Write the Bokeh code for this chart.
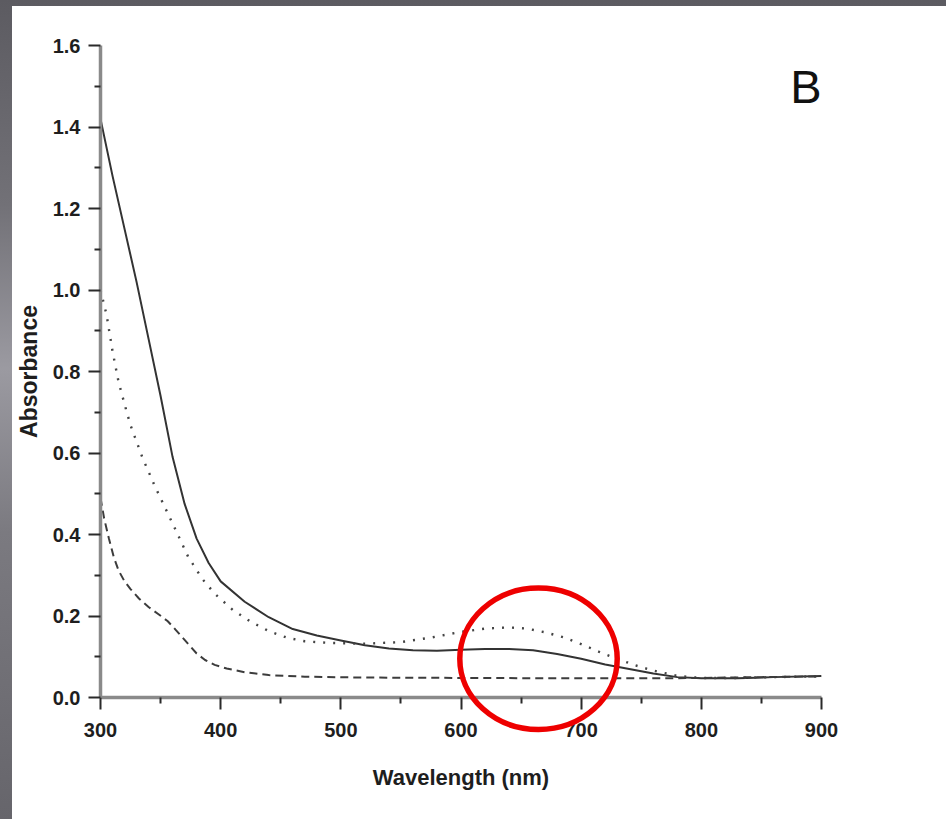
from bokeh.plotting import figure
from bokeh.layouts import column
from bokeh.models import FixedTicker, PrintfTickFormatter, Label, Range1d
from bokeh.embed import file_html
from bokeh.resources import INLINE

# ---- data ----
wl_solid = [300, 310, 320, 330, 340, 350, 360, 370, 380, 390, 400, 420, 440, 460, 480,
            500, 520, 540, 560, 580, 600, 620, 640, 660, 680, 700, 720, 740, 760, 780,
            800, 830, 860, 900]
abs_solid = [1.42, 1.28, 1.15, 1.02, 0.88, 0.74, 0.59, 0.475, 0.39, 0.33, 0.285, 0.235,
             0.197, 0.168, 0.152, 0.140, 0.128, 0.120, 0.116, 0.115, 0.117, 0.119, 0.119,
             0.116, 0.107, 0.095, 0.081, 0.070, 0.059, 0.050, 0.047, 0.047, 0.050, 0.053]

wl_dot = [300, 305, 310, 315, 320, 325, 335, 345, 360, 373, 385, 395, 410, 425, 440, 455,
          470, 490, 520, 550, 575, 600, 620, 640, 655, 670, 685, 700, 715, 730, 745, 760,
          780, 800, 830, 860, 900]
abs_dot = [1.00, 0.94, 0.85, 0.775, 0.72, 0.668, 0.588, 0.52, 0.427, 0.345, 0.29, 0.255,
           0.215, 0.186, 0.163, 0.147, 0.138, 0.134, 0.132, 0.136, 0.147, 0.161, 0.169,
           0.172, 0.169, 0.160, 0.148, 0.131, 0.112, 0.095, 0.079, 0.066, 0.053, 0.048,
           0.048, 0.050, 0.052]

wl_dash = [300, 303, 307, 311, 315, 320, 325, 332, 340, 348, 356, 362, 368, 374, 380, 387,
           395, 405, 420, 440, 470, 520, 600, 700, 760, 800, 850, 900]
abs_dash = [0.49, 0.44, 0.39, 0.345, 0.312, 0.285, 0.266, 0.243, 0.222, 0.205, 0.187,
            0.168, 0.148, 0.128, 0.108, 0.092, 0.080, 0.071, 0.062, 0.055, 0.051, 0.049,
            0.048, 0.047, 0.047, 0.048, 0.050, 0.052]

x_ticks = [300, 400, 500, 600, 700, 800, 900]
x_minor = [350, 450, 550, 650, 750, 850]
y_ticks = [0.0, 0.2, 0.4, 0.6, 0.8, 1.0, 1.2, 1.4, 1.6]
y_minor = [0.1, 0.3, 0.5, 0.7, 0.9, 1.1, 1.3, 1.5]

# highlight ellipse (data units)
ring_x, ring_y, ring_w, ring_h = 664.5, 0.095, 131, 0.347

FONT = "Liberation Sans"

p = figure(width=934, height=813, output_backend="svg", toolbar_location=None,
           x_range=Range1d(300, 900), y_range=Range1d(0, 1.6),
           min_border_left=88, min_border_right=125, min_border_top=39,
           min_border_bottom=122)
p.margin = (6, 0, 0, 12)
p.styles = {"background-color": "white"}
p.outline_line_color = None
p.xgrid.visible = False
p.ygrid.visible = False
p.background_fill_color = "white"
p.border_fill_color = "white"

for ax in (p.xaxis[0], p.yaxis[0]):
    ax.axis_line_color = "#8a8a8a"
    ax.axis_line_width = 3.5
    ax.major_tick_line_color = "#2a2a2a"
    ax.major_tick_line_width = 2
    ax.minor_tick_line_color = "#2a2a2a"
    ax.minor_tick_line_width = 2
    ax.major_tick_in = 0
    ax.major_tick_out = 12
    ax.minor_tick_in = 0
    ax.minor_tick_out = 6
    ax.major_label_text_font = FONT
    ax.major_label_text_font_style = "bold"
    ax.major_label_text_font_size = "20px"
    ax.major_label_text_color = "#1e1e1e"
    ax.axis_label_text_font = FONT
    ax.axis_label_text_font_style = "bold"
    ax.axis_label_text_font_size = "22px"
    ax.axis_label_text_color = "#1e1e1e"

p.xaxis.ticker = FixedTicker(ticks=x_ticks, minor_ticks=x_minor)
p.yaxis.ticker = FixedTicker(ticks=y_ticks, minor_ticks=y_minor)
p.yaxis.formatter = PrintfTickFormatter(format="%.1f")
p.xaxis.major_label_standoff = 13
p.yaxis.major_label_standoff = 8
p.xaxis.axis_label = "Wavelength (nm)"
p.xaxis.axis_label_standoff = 25
p.yaxis.axis_label = "Absorbance"
p.yaxis.axis_label_text_font_size = "23px"
p.yaxis.axis_label_standoff = 8

p.line(wl_solid, abs_solid, line_color="#333333", line_width=2, line_join="round")
p.line(wl_dot, abs_dot, line_color="#444444", line_width=2.4, line_dash="2 8",
       line_join="round")
p.line(wl_dash, abs_dash, line_color="#3c3c3c", line_width=2, line_dash="8 5",
       line_join="round")

p.ellipse(x=[ring_x], y=[ring_y], width=[ring_w], height=[ring_h],
          fill_color=None, line_color="#ee0000", line_width=5.5, level="overlay")

p.add_layout(Label(x=874, y=1.50, text="B", text_font=FONT, text_font_size="47px",
                   text_color="#111111", text_baseline="alphabetic", text_align="left"))

page = column(p, styles={"background": "linear-gradient(180deg, #5c5b61 0%, #727177 25%, #9b9aa1 45%, #7b7a80 65%, #66656b 100%)"})

open("out.html", "w").write(file_html(page, INLINE))
